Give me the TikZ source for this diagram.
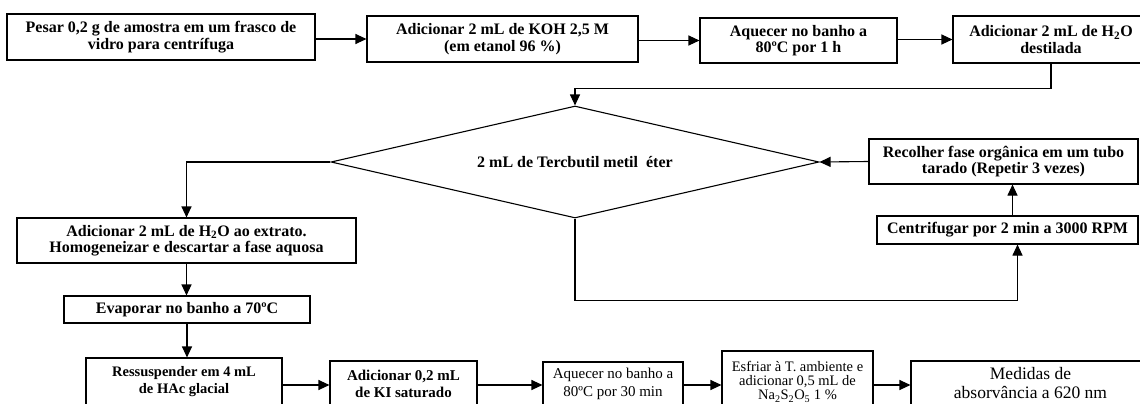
\documentclass[tikz,border=0pt]{standalone}
\usepackage{fontspec}
\setmainfont{Liberation Serif}
\usetikzlibrary{arrows.meta, shapes.geometric}

\begin{document}
\begin{tikzpicture}[x=1pt, y=-1pt,
    passo/.style={draw, line width=1.1pt, align=center, inner sep=1pt, font=\fontsize{16}{16.5}\selectfont\bfseries},
    passofino/.style={passo, font=\fontsize{14.5}{14}\selectfont},
    seta/.style={line width=1.1pt, -{Triangle[length=11pt, width=10pt]}}]
    \clip (0,0) rectangle (1140,404);
    % linha de cima
    \node[passo, minimum width=308pt, minimum height=46pt] (pesar) at (161,37) {Pesar 0,2 g de amostra em um frasco de\\vidro para centrífuga};
    \node[passo, minimum width=271pt, minimum height=46pt] (koh) at (502.5,39) {Adicionar 2 mL de KOH 2,5 M\\(em etanol 96 \%)};
    \node[passo, minimum width=197pt, minimum height=45pt] (banho) at (798.5,40.5) {Aquecer no banho a\\80ºC por 1 h};
    \node[passo, minimum width=196pt, minimum height=47pt] (destilada) at (1051,39.5) {Adicionar 2 mL de H\textsubscript{2}O\\destilada};
    % extracao
    \node[passo, diamond, aspect=4.4, minimum width=488pt, minimum height=112pt] (eter) at (575,162) {2 mL de Tercbutil metil \ éter};
    \node[passo, minimum width=269pt, minimum height=45pt] (recolher) at (1003.5,161.5) {Recolher fase orgânica em um tubo\\tarado (Repetir 3 vezes)};
    \node[passo, minimum width=261pt, minimum height=28pt] (centrif) at (1007.5,230) {Centrifugar por 2 min a 3000 RPM};
    % coluna da esquerda
    \node[passo, minimum width=339pt, minimum height=45pt] (extrato) at (186.5,240.5) {Adicionar 2 mL de H\textsubscript{2}O ao extrato.\\Homogeneizar e descartar a fase aquosa};
    \node[passo, minimum width=246pt, minimum height=27pt] (evaporar) at (187,309.5) {Evaporar no banho a 70ºC};
    % linha de baixo
    \node[passo, font=\fontsize{14.5}{17}\selectfont\bfseries, minimum width=196pt, minimum height=48pt] (ressusp) at (184,382) {Ressuspender em 4 mL\\de HAc glacial};
    \node[passo, font=\fontsize{15}{17}\selectfont\bfseries, minimum width=147pt, minimum height=46pt] (ki) at (403.5,384) {Adicionar 0,2 mL\\de KI saturado};
    \node[passofino, font=\fontsize{15}{17.5}\selectfont, minimum width=140pt, minimum height=44pt] (aquecer) at (613,384) {Aquecer no banho a\\80ºC por 30 min};
    \node[passofino, minimum width=151pt, minimum height=62pt] (esfriar) at (797.5,382) {Esfriar à T. ambiente e\\adicionar 0,5 mL de\\Na\textsubscript{2}S\textsubscript{2}O\textsubscript{5} 1 \%};
    \node[passofino, font=\fontsize{17.5}{19}\selectfont, minimum width=239pt, minimum height=44pt] (medidas) at (1030.5,383) {Medidas de\\absorvância a 620 nm};
    \coordinate (fila) at (0,385);
    % setas
    \draw[seta] (koh.west -| pesar.east) -- (koh.west);
    \draw[seta] (banho.west -| koh.east) -- (banho.west);
    \draw[seta] (destilada.west -| banho.east) -- (destilada.west);
    \draw[seta] (destilada.south) -- ++(0,25) -| (eter.north);
    \draw[seta] (recolher.west) -- (eter.east);
    \draw[seta] ([xshift=5pt]centrif.north) -- ([xshift=5pt]centrif.north |- recolher.south);
    \draw[seta] (eter.south) -- ++(0,82) -| ([xshift=10pt]centrif.south);
    \draw[seta] (eter.west) -| (extrato.north);
    \draw[seta] (extrato.south) -- (extrato.south |- evaporar.north);
    \draw[seta] (evaporar.south) -- (evaporar.south |- ressusp.north);
    \draw[seta] (ressusp.east |- fila) -- (ki.west |- fila);
    \draw[seta] (ki.east |- fila) -- (aquecer.west |- fila);
    \draw[seta] (aquecer.east |- fila) -- (esfriar.west |- fila);
    \draw[seta] (esfriar.east |- fila) -- (medidas.west |- fila);
\end{tikzpicture}
\end{document}
